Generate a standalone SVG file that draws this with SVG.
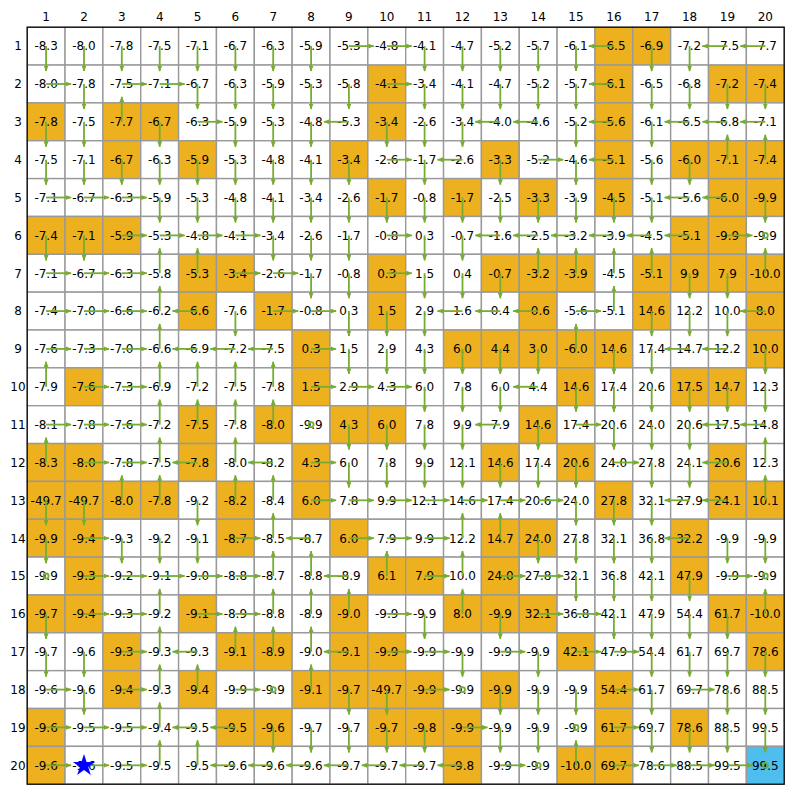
<svg xmlns="http://www.w3.org/2000/svg" xmlns:xlink="http://www.w3.org/1999/xlink" width="800" height="800" viewBox="0 0 800 800">
<style>
.w{fill:#ffffff;stroke:#999999;stroke-width:1.4}
.o{fill:#EDB120;stroke:#999999;stroke-width:1.4}
.b{fill:#4DBEEE;stroke:#999999;stroke-width:1.4}
text{font-family:"DejaVu Sans","Liberation Sans",sans-serif;font-size:12px;text-anchor:middle;fill:#000}
.lab text{font-size:12px}
#connectors{fill:none;stroke:#77AC30;stroke-width:1.8}
#connectors path{marker-end:url(#ah)}
</style>
<defs>
<marker id="ah" viewBox="0 0 6 5" refX="5.5" refY="2.5" markerWidth="6" markerHeight="5" markerUnits="userSpaceOnUse" orient="auto"><path d="M0 0L6 2.5L0 5z" fill="#77AC30" stroke="none"/></marker>
<rect id="W" class="w" width="37.85" height="37.85"/>
<rect id="O" class="o" width="37.85" height="37.85"/>
<rect id="B" class="b" width="37.85" height="37.85"/>
</defs>
<rect width="800" height="800" fill="#ffffff"/>
<g id="cells">
<g id="n1-1" transform="translate(27.2 27.2)"><use href="#W"/><text x="18.9" y="23.3">-8.3</text></g>
<g id="n1-2" transform="translate(65.05 27.2)"><use href="#W"/><text x="18.9" y="23.3">-8.0</text></g>
<g id="n1-3" transform="translate(102.9 27.2)"><use href="#W"/><text x="18.9" y="23.3">-7.8</text></g>
<g id="n1-4" transform="translate(140.75 27.2)"><use href="#W"/><text x="18.9" y="23.3">-7.5</text></g>
<g id="n1-5" transform="translate(178.6 27.2)"><use href="#W"/><text x="18.9" y="23.3">-7.1</text></g>
<g id="n1-6" transform="translate(216.45 27.2)"><use href="#W"/><text x="18.9" y="23.3">-6.7</text></g>
<g id="n1-7" transform="translate(254.3 27.2)"><use href="#W"/><text x="18.9" y="23.3">-6.3</text></g>
<g id="n1-8" transform="translate(292.15 27.2)"><use href="#W"/><text x="18.9" y="23.3">-5.9</text></g>
<g id="n1-9" transform="translate(330 27.2)"><use href="#W"/><text x="18.9" y="23.3">-5.3</text></g>
<g id="n1-10" transform="translate(367.85 27.2)"><use href="#W"/><text x="18.9" y="23.3">-4.8</text></g>
<g id="n1-11" transform="translate(405.7 27.2)"><use href="#W"/><text x="18.9" y="23.3">-4.1</text></g>
<g id="n1-12" transform="translate(443.55 27.2)"><use href="#W"/><text x="18.9" y="23.3">-4.7</text></g>
<g id="n1-13" transform="translate(481.4 27.2)"><use href="#W"/><text x="18.9" y="23.3">-5.2</text></g>
<g id="n1-14" transform="translate(519.25 27.2)"><use href="#W"/><text x="18.9" y="23.3">-5.7</text></g>
<g id="n1-15" transform="translate(557.1 27.2)"><use href="#W"/><text x="18.9" y="23.3">-6.1</text></g>
<g id="n1-16" transform="translate(594.95 27.2)"><use href="#O"/><text x="18.9" y="23.3">-6.5</text></g>
<g id="n1-17" transform="translate(632.8 27.2)"><use href="#O"/><text x="18.9" y="23.3">-6.9</text></g>
<g id="n1-18" transform="translate(670.65 27.2)"><use href="#W"/><text x="18.9" y="23.3">-7.2</text></g>
<g id="n1-19" transform="translate(708.5 27.2)"><use href="#W"/><text x="18.9" y="23.3">-7.5</text></g>
<g id="n1-20" transform="translate(746.35 27.2)"><use href="#W"/><text x="18.9" y="23.3">-7.7</text></g>

<g id="n2-1" transform="translate(27.2 65.05)"><use href="#W"/><text x="18.9" y="23.3">-8.0</text></g>
<g id="n2-2" transform="translate(65.05 65.05)"><use href="#W"/><text x="18.9" y="23.3">-7.8</text></g>
<g id="n2-3" transform="translate(102.9 65.05)"><use href="#W"/><text x="18.9" y="23.3">-7.5</text></g>
<g id="n2-4" transform="translate(140.75 65.05)"><use href="#W"/><text x="18.9" y="23.3">-7.1</text></g>
<g id="n2-5" transform="translate(178.6 65.05)"><use href="#W"/><text x="18.9" y="23.3">-6.7</text></g>
<g id="n2-6" transform="translate(216.45 65.05)"><use href="#W"/><text x="18.9" y="23.3">-6.3</text></g>
<g id="n2-7" transform="translate(254.3 65.05)"><use href="#W"/><text x="18.9" y="23.3">-5.9</text></g>
<g id="n2-8" transform="translate(292.15 65.05)"><use href="#W"/><text x="18.9" y="23.3">-5.3</text></g>
<g id="n2-9" transform="translate(330 65.05)"><use href="#W"/><text x="18.9" y="23.3">-5.8</text></g>
<g id="n2-10" transform="translate(367.85 65.05)"><use href="#O"/><text x="18.9" y="23.3">-4.1</text></g>
<g id="n2-11" transform="translate(405.7 65.05)"><use href="#W"/><text x="18.9" y="23.3">-3.4</text></g>
<g id="n2-12" transform="translate(443.55 65.05)"><use href="#W"/><text x="18.9" y="23.3">-4.1</text></g>
<g id="n2-13" transform="translate(481.4 65.05)"><use href="#W"/><text x="18.9" y="23.3">-4.7</text></g>
<g id="n2-14" transform="translate(519.25 65.05)"><use href="#W"/><text x="18.9" y="23.3">-5.2</text></g>
<g id="n2-15" transform="translate(557.1 65.05)"><use href="#W"/><text x="18.9" y="23.3">-5.7</text></g>
<g id="n2-16" transform="translate(594.95 65.05)"><use href="#O"/><text x="18.9" y="23.3">-6.1</text></g>
<g id="n2-17" transform="translate(632.8 65.05)"><use href="#W"/><text x="18.9" y="23.3">-6.5</text></g>
<g id="n2-18" transform="translate(670.65 65.05)"><use href="#W"/><text x="18.9" y="23.3">-6.8</text></g>
<g id="n2-19" transform="translate(708.5 65.05)"><use href="#O"/><text x="18.9" y="23.3">-7.2</text></g>
<g id="n2-20" transform="translate(746.35 65.05)"><use href="#O"/><text x="18.9" y="23.3">-7.4</text></g>

<g id="n3-1" transform="translate(27.2 102.9)"><use href="#O"/><text x="18.9" y="23.3">-7.8</text></g>
<g id="n3-2" transform="translate(65.05 102.9)"><use href="#W"/><text x="18.9" y="23.3">-7.5</text></g>
<g id="n3-3" transform="translate(102.9 102.9)"><use href="#O"/><text x="18.9" y="23.3">-7.7</text></g>
<g id="n3-4" transform="translate(140.75 102.9)"><use href="#O"/><text x="18.9" y="23.3">-6.7</text></g>
<g id="n3-5" transform="translate(178.6 102.9)"><use href="#W"/><text x="18.9" y="23.3">-6.3</text></g>
<g id="n3-6" transform="translate(216.45 102.9)"><use href="#W"/><text x="18.9" y="23.3">-5.9</text></g>
<g id="n3-7" transform="translate(254.3 102.9)"><use href="#W"/><text x="18.9" y="23.3">-5.3</text></g>
<g id="n3-8" transform="translate(292.15 102.9)"><use href="#W"/><text x="18.9" y="23.3">-4.8</text></g>
<g id="n3-9" transform="translate(330 102.9)"><use href="#W"/><text x="18.9" y="23.3">-5.3</text></g>
<g id="n3-10" transform="translate(367.85 102.9)"><use href="#O"/><text x="18.9" y="23.3">-3.4</text></g>
<g id="n3-11" transform="translate(405.7 102.9)"><use href="#W"/><text x="18.9" y="23.3">-2.6</text></g>
<g id="n3-12" transform="translate(443.55 102.9)"><use href="#W"/><text x="18.9" y="23.3">-3.4</text></g>
<g id="n3-13" transform="translate(481.4 102.9)"><use href="#W"/><text x="18.9" y="23.3">-4.0</text></g>
<g id="n3-14" transform="translate(519.25 102.9)"><use href="#W"/><text x="18.9" y="23.3">-4.6</text></g>
<g id="n3-15" transform="translate(557.1 102.9)"><use href="#W"/><text x="18.9" y="23.3">-5.2</text></g>
<g id="n3-16" transform="translate(594.95 102.9)"><use href="#O"/><text x="18.9" y="23.3">-5.6</text></g>
<g id="n3-17" transform="translate(632.8 102.9)"><use href="#W"/><text x="18.9" y="23.3">-6.1</text></g>
<g id="n3-18" transform="translate(670.65 102.9)"><use href="#W"/><text x="18.9" y="23.3">-6.5</text></g>
<g id="n3-19" transform="translate(708.5 102.9)"><use href="#W"/><text x="18.9" y="23.3">-6.8</text></g>
<g id="n3-20" transform="translate(746.35 102.9)"><use href="#W"/><text x="18.9" y="23.3">-7.1</text></g>

<g id="n4-1" transform="translate(27.2 140.75)"><use href="#W"/><text x="18.9" y="23.3">-7.5</text></g>
<g id="n4-2" transform="translate(65.05 140.75)"><use href="#W"/><text x="18.9" y="23.3">-7.1</text></g>
<g id="n4-3" transform="translate(102.9 140.75)"><use href="#O"/><text x="18.9" y="23.3">-6.7</text></g>
<g id="n4-4" transform="translate(140.75 140.75)"><use href="#W"/><text x="18.9" y="23.3">-6.3</text></g>
<g id="n4-5" transform="translate(178.6 140.75)"><use href="#O"/><text x="18.9" y="23.3">-5.9</text></g>
<g id="n4-6" transform="translate(216.45 140.75)"><use href="#W"/><text x="18.9" y="23.3">-5.3</text></g>
<g id="n4-7" transform="translate(254.3 140.75)"><use href="#W"/><text x="18.9" y="23.3">-4.8</text></g>
<g id="n4-8" transform="translate(292.15 140.75)"><use href="#W"/><text x="18.9" y="23.3">-4.1</text></g>
<g id="n4-9" transform="translate(330 140.75)"><use href="#O"/><text x="18.9" y="23.3">-3.4</text></g>
<g id="n4-10" transform="translate(367.85 140.75)"><use href="#W"/><text x="18.9" y="23.3">-2.6</text></g>
<g id="n4-11" transform="translate(405.7 140.75)"><use href="#W"/><text x="18.9" y="23.3">-1.7</text></g>
<g id="n4-12" transform="translate(443.55 140.75)"><use href="#W"/><text x="18.9" y="23.3">-2.6</text></g>
<g id="n4-13" transform="translate(481.4 140.75)"><use href="#O"/><text x="18.9" y="23.3">-3.3</text></g>
<g id="n4-14" transform="translate(519.25 140.75)"><use href="#W"/><text x="18.9" y="23.3">-5.2</text></g>
<g id="n4-15" transform="translate(557.1 140.75)"><use href="#W"/><text x="18.9" y="23.3">-4.6</text></g>
<g id="n4-16" transform="translate(594.95 140.75)"><use href="#O"/><text x="18.9" y="23.3">-5.1</text></g>
<g id="n4-17" transform="translate(632.8 140.75)"><use href="#W"/><text x="18.9" y="23.3">-5.6</text></g>
<g id="n4-18" transform="translate(670.65 140.75)"><use href="#O"/><text x="18.9" y="23.3">-6.0</text></g>
<g id="n4-19" transform="translate(708.5 140.75)"><use href="#O"/><text x="18.9" y="23.3">-7.1</text></g>
<g id="n4-20" transform="translate(746.35 140.75)"><use href="#O"/><text x="18.9" y="23.3">-7.4</text></g>

<g id="n5-1" transform="translate(27.2 178.6)"><use href="#W"/><text x="18.9" y="23.3">-7.1</text></g>
<g id="n5-2" transform="translate(65.05 178.6)"><use href="#W"/><text x="18.9" y="23.3">-6.7</text></g>
<g id="n5-3" transform="translate(102.9 178.6)"><use href="#W"/><text x="18.9" y="23.3">-6.3</text></g>
<g id="n5-4" transform="translate(140.75 178.6)"><use href="#W"/><text x="18.9" y="23.3">-5.9</text></g>
<g id="n5-5" transform="translate(178.6 178.6)"><use href="#W"/><text x="18.9" y="23.3">-5.3</text></g>
<g id="n5-6" transform="translate(216.45 178.6)"><use href="#W"/><text x="18.9" y="23.3">-4.8</text></g>
<g id="n5-7" transform="translate(254.3 178.6)"><use href="#W"/><text x="18.9" y="23.3">-4.1</text></g>
<g id="n5-8" transform="translate(292.15 178.6)"><use href="#W"/><text x="18.9" y="23.3">-3.4</text></g>
<g id="n5-9" transform="translate(330 178.6)"><use href="#W"/><text x="18.9" y="23.3">-2.6</text></g>
<g id="n5-10" transform="translate(367.85 178.6)"><use href="#O"/><text x="18.9" y="23.3">-1.7</text></g>
<g id="n5-11" transform="translate(405.7 178.6)"><use href="#W"/><text x="18.9" y="23.3">-0.8</text></g>
<g id="n5-12" transform="translate(443.55 178.6)"><use href="#O"/><text x="18.9" y="23.3">-1.7</text></g>
<g id="n5-13" transform="translate(481.4 178.6)"><use href="#W"/><text x="18.9" y="23.3">-2.5</text></g>
<g id="n5-14" transform="translate(519.25 178.6)"><use href="#O"/><text x="18.9" y="23.3">-3.3</text></g>
<g id="n5-15" transform="translate(557.1 178.6)"><use href="#W"/><text x="18.9" y="23.3">-3.9</text></g>
<g id="n5-16" transform="translate(594.95 178.6)"><use href="#O"/><text x="18.9" y="23.3">-4.5</text></g>
<g id="n5-17" transform="translate(632.8 178.6)"><use href="#W"/><text x="18.9" y="23.3">-5.1</text></g>
<g id="n5-18" transform="translate(670.65 178.6)"><use href="#W"/><text x="18.9" y="23.3">-5.6</text></g>
<g id="n5-19" transform="translate(708.5 178.6)"><use href="#O"/><text x="18.9" y="23.3">-6.0</text></g>
<g id="n5-20" transform="translate(746.35 178.6)"><use href="#O"/><text x="18.9" y="23.3">-9.9</text></g>

<g id="n6-1" transform="translate(27.2 216.45)"><use href="#O"/><text x="18.9" y="23.3">-7.4</text></g>
<g id="n6-2" transform="translate(65.05 216.45)"><use href="#O"/><text x="18.9" y="23.3">-7.1</text></g>
<g id="n6-3" transform="translate(102.9 216.45)"><use href="#O"/><text x="18.9" y="23.3">-5.9</text></g>
<g id="n6-4" transform="translate(140.75 216.45)"><use href="#W"/><text x="18.9" y="23.3">-5.3</text></g>
<g id="n6-5" transform="translate(178.6 216.45)"><use href="#W"/><text x="18.9" y="23.3">-4.8</text></g>
<g id="n6-6" transform="translate(216.45 216.45)"><use href="#W"/><text x="18.9" y="23.3">-4.1</text></g>
<g id="n6-7" transform="translate(254.3 216.45)"><use href="#W"/><text x="18.9" y="23.3">-3.4</text></g>
<g id="n6-8" transform="translate(292.15 216.45)"><use href="#W"/><text x="18.9" y="23.3">-2.6</text></g>
<g id="n6-9" transform="translate(330 216.45)"><use href="#W"/><text x="18.9" y="23.3">-1.7</text></g>
<g id="n6-10" transform="translate(367.85 216.45)"><use href="#W"/><text x="18.9" y="23.3">-0.8</text></g>
<g id="n6-11" transform="translate(405.7 216.45)"><use href="#W"/><text x="18.9" y="23.3">0.3</text></g>
<g id="n6-12" transform="translate(443.55 216.45)"><use href="#W"/><text x="18.9" y="23.3">-0.7</text></g>
<g id="n6-13" transform="translate(481.4 216.45)"><use href="#W"/><text x="18.9" y="23.3">-1.6</text></g>
<g id="n6-14" transform="translate(519.25 216.45)"><use href="#W"/><text x="18.9" y="23.3">-2.5</text></g>
<g id="n6-15" transform="translate(557.1 216.45)"><use href="#W"/><text x="18.9" y="23.3">-3.2</text></g>
<g id="n6-16" transform="translate(594.95 216.45)"><use href="#W"/><text x="18.9" y="23.3">-3.9</text></g>
<g id="n6-17" transform="translate(632.8 216.45)"><use href="#W"/><text x="18.9" y="23.3">-4.5</text></g>
<g id="n6-18" transform="translate(670.65 216.45)"><use href="#O"/><text x="18.9" y="23.3">-5.1</text></g>
<g id="n6-19" transform="translate(708.5 216.45)"><use href="#O"/><text x="18.9" y="23.3">-9.9</text></g>
<g id="n6-20" transform="translate(746.35 216.45)"><use href="#W"/><text x="18.9" y="23.3">-9.9</text></g>

<g id="n7-1" transform="translate(27.2 254.3)"><use href="#W"/><text x="18.9" y="23.3">-7.1</text></g>
<g id="n7-2" transform="translate(65.05 254.3)"><use href="#W"/><text x="18.9" y="23.3">-6.7</text></g>
<g id="n7-3" transform="translate(102.9 254.3)"><use href="#W"/><text x="18.9" y="23.3">-6.3</text></g>
<g id="n7-4" transform="translate(140.75 254.3)"><use href="#W"/><text x="18.9" y="23.3">-5.8</text></g>
<g id="n7-5" transform="translate(178.6 254.3)"><use href="#O"/><text x="18.9" y="23.3">-5.3</text></g>
<g id="n7-6" transform="translate(216.45 254.3)"><use href="#O"/><text x="18.9" y="23.3">-3.4</text></g>
<g id="n7-7" transform="translate(254.3 254.3)"><use href="#W"/><text x="18.9" y="23.3">-2.6</text></g>
<g id="n7-8" transform="translate(292.15 254.3)"><use href="#W"/><text x="18.9" y="23.3">-1.7</text></g>
<g id="n7-9" transform="translate(330 254.3)"><use href="#W"/><text x="18.9" y="23.3">-0.8</text></g>
<g id="n7-10" transform="translate(367.85 254.3)"><use href="#O"/><text x="18.9" y="23.3">0.3</text></g>
<g id="n7-11" transform="translate(405.7 254.3)"><use href="#W"/><text x="18.9" y="23.3">1.5</text></g>
<g id="n7-12" transform="translate(443.55 254.3)"><use href="#W"/><text x="18.9" y="23.3">0.4</text></g>
<g id="n7-13" transform="translate(481.4 254.3)"><use href="#O"/><text x="18.9" y="23.3">-0.7</text></g>
<g id="n7-14" transform="translate(519.25 254.3)"><use href="#O"/><text x="18.9" y="23.3">-3.2</text></g>
<g id="n7-15" transform="translate(557.1 254.3)"><use href="#O"/><text x="18.9" y="23.3">-3.9</text></g>
<g id="n7-16" transform="translate(594.95 254.3)"><use href="#W"/><text x="18.9" y="23.3">-4.5</text></g>
<g id="n7-17" transform="translate(632.8 254.3)"><use href="#O"/><text x="18.9" y="23.3">-5.1</text></g>
<g id="n7-18" transform="translate(670.65 254.3)"><use href="#O"/><text x="18.9" y="23.3">9.9</text></g>
<g id="n7-19" transform="translate(708.5 254.3)"><use href="#O"/><text x="18.9" y="23.3">7.9</text></g>
<g id="n7-20" transform="translate(746.35 254.3)"><use href="#O"/><text x="18.9" y="23.3">-10.0</text></g>

<g id="n8-1" transform="translate(27.2 292.15)"><use href="#W"/><text x="18.9" y="23.3">-7.4</text></g>
<g id="n8-2" transform="translate(65.05 292.15)"><use href="#W"/><text x="18.9" y="23.3">-7.0</text></g>
<g id="n8-3" transform="translate(102.9 292.15)"><use href="#W"/><text x="18.9" y="23.3">-6.6</text></g>
<g id="n8-4" transform="translate(140.75 292.15)"><use href="#W"/><text x="18.9" y="23.3">-6.2</text></g>
<g id="n8-5" transform="translate(178.6 292.15)"><use href="#O"/><text x="18.9" y="23.3">-6.6</text></g>
<g id="n8-6" transform="translate(216.45 292.15)"><use href="#W"/><text x="18.9" y="23.3">-7.6</text></g>
<g id="n8-7" transform="translate(254.3 292.15)"><use href="#O"/><text x="18.9" y="23.3">-1.7</text></g>
<g id="n8-8" transform="translate(292.15 292.15)"><use href="#W"/><text x="18.9" y="23.3">-0.8</text></g>
<g id="n8-9" transform="translate(330 292.15)"><use href="#W"/><text x="18.9" y="23.3">0.3</text></g>
<g id="n8-10" transform="translate(367.85 292.15)"><use href="#O"/><text x="18.9" y="23.3">1.5</text></g>
<g id="n8-11" transform="translate(405.7 292.15)"><use href="#W"/><text x="18.9" y="23.3">2.9</text></g>
<g id="n8-12" transform="translate(443.55 292.15)"><use href="#W"/><text x="18.9" y="23.3">1.6</text></g>
<g id="n8-13" transform="translate(481.4 292.15)"><use href="#W"/><text x="18.9" y="23.3">0.4</text></g>
<g id="n8-14" transform="translate(519.25 292.15)"><use href="#O"/><text x="18.9" y="23.3">-0.6</text></g>
<g id="n8-15" transform="translate(557.1 292.15)"><use href="#W"/><text x="18.9" y="23.3">-5.6</text></g>
<g id="n8-16" transform="translate(594.95 292.15)"><use href="#W"/><text x="18.9" y="23.3">-5.1</text></g>
<g id="n8-17" transform="translate(632.8 292.15)"><use href="#O"/><text x="18.9" y="23.3">14.6</text></g>
<g id="n8-18" transform="translate(670.65 292.15)"><use href="#W"/><text x="18.9" y="23.3">12.2</text></g>
<g id="n8-19" transform="translate(708.5 292.15)"><use href="#W"/><text x="18.9" y="23.3">10.0</text></g>
<g id="n8-20" transform="translate(746.35 292.15)"><use href="#O"/><text x="18.9" y="23.3">8.0</text></g>

<g id="n9-1" transform="translate(27.2 330)"><use href="#W"/><text x="18.9" y="23.3">-7.6</text></g>
<g id="n9-2" transform="translate(65.05 330)"><use href="#W"/><text x="18.9" y="23.3">-7.3</text></g>
<g id="n9-3" transform="translate(102.9 330)"><use href="#W"/><text x="18.9" y="23.3">-7.0</text></g>
<g id="n9-4" transform="translate(140.75 330)"><use href="#W"/><text x="18.9" y="23.3">-6.6</text></g>
<g id="n9-5" transform="translate(178.6 330)"><use href="#W"/><text x="18.9" y="23.3">-6.9</text></g>
<g id="n9-6" transform="translate(216.45 330)"><use href="#W"/><text x="18.9" y="23.3">-7.2</text></g>
<g id="n9-7" transform="translate(254.3 330)"><use href="#W"/><text x="18.9" y="23.3">-7.5</text></g>
<g id="n9-8" transform="translate(292.15 330)"><use href="#O"/><text x="18.9" y="23.3">0.3</text></g>
<g id="n9-9" transform="translate(330 330)"><use href="#W"/><text x="18.9" y="23.3">1.5</text></g>
<g id="n9-10" transform="translate(367.85 330)"><use href="#W"/><text x="18.9" y="23.3">2.9</text></g>
<g id="n9-11" transform="translate(405.7 330)"><use href="#W"/><text x="18.9" y="23.3">4.3</text></g>
<g id="n9-12" transform="translate(443.55 330)"><use href="#O"/><text x="18.9" y="23.3">6.0</text></g>
<g id="n9-13" transform="translate(481.4 330)"><use href="#O"/><text x="18.9" y="23.3">4.4</text></g>
<g id="n9-14" transform="translate(519.25 330)"><use href="#O"/><text x="18.9" y="23.3">3.0</text></g>
<g id="n9-15" transform="translate(557.1 330)"><use href="#O"/><text x="18.9" y="23.3">-6.0</text></g>
<g id="n9-16" transform="translate(594.95 330)"><use href="#O"/><text x="18.9" y="23.3">14.6</text></g>
<g id="n9-17" transform="translate(632.8 330)"><use href="#W"/><text x="18.9" y="23.3">17.4</text></g>
<g id="n9-18" transform="translate(670.65 330)"><use href="#W"/><text x="18.9" y="23.3">14.7</text></g>
<g id="n9-19" transform="translate(708.5 330)"><use href="#W"/><text x="18.9" y="23.3">12.2</text></g>
<g id="n9-20" transform="translate(746.35 330)"><use href="#O"/><text x="18.9" y="23.3">10.0</text></g>

<g id="n10-1" transform="translate(27.2 367.85)"><use href="#W"/><text x="18.9" y="23.3">-7.9</text></g>
<g id="n10-2" transform="translate(65.05 367.85)"><use href="#O"/><text x="18.9" y="23.3">-7.6</text></g>
<g id="n10-3" transform="translate(102.9 367.85)"><use href="#W"/><text x="18.9" y="23.3">-7.3</text></g>
<g id="n10-4" transform="translate(140.75 367.85)"><use href="#W"/><text x="18.9" y="23.3">-6.9</text></g>
<g id="n10-5" transform="translate(178.6 367.85)"><use href="#W"/><text x="18.9" y="23.3">-7.2</text></g>
<g id="n10-6" transform="translate(216.45 367.85)"><use href="#W"/><text x="18.9" y="23.3">-7.5</text></g>
<g id="n10-7" transform="translate(254.3 367.85)"><use href="#W"/><text x="18.9" y="23.3">-7.8</text></g>
<g id="n10-8" transform="translate(292.15 367.85)"><use href="#O"/><text x="18.9" y="23.3">1.5</text></g>
<g id="n10-9" transform="translate(330 367.85)"><use href="#W"/><text x="18.9" y="23.3">2.9</text></g>
<g id="n10-10" transform="translate(367.85 367.85)"><use href="#W"/><text x="18.9" y="23.3">4.3</text></g>
<g id="n10-11" transform="translate(405.7 367.85)"><use href="#W"/><text x="18.9" y="23.3">6.0</text></g>
<g id="n10-12" transform="translate(443.55 367.85)"><use href="#W"/><text x="18.9" y="23.3">7.8</text></g>
<g id="n10-13" transform="translate(481.4 367.85)"><use href="#W"/><text x="18.9" y="23.3">6.0</text></g>
<g id="n10-14" transform="translate(519.25 367.85)"><use href="#W"/><text x="18.9" y="23.3">4.4</text></g>
<g id="n10-15" transform="translate(557.1 367.85)"><use href="#O"/><text x="18.9" y="23.3">14.6</text></g>
<g id="n10-16" transform="translate(594.95 367.85)"><use href="#W"/><text x="18.9" y="23.3">17.4</text></g>
<g id="n10-17" transform="translate(632.8 367.85)"><use href="#W"/><text x="18.9" y="23.3">20.6</text></g>
<g id="n10-18" transform="translate(670.65 367.85)"><use href="#O"/><text x="18.9" y="23.3">17.5</text></g>
<g id="n10-19" transform="translate(708.5 367.85)"><use href="#O"/><text x="18.9" y="23.3">14.7</text></g>
<g id="n10-20" transform="translate(746.35 367.85)"><use href="#W"/><text x="18.9" y="23.3">12.3</text></g>

<g id="n11-1" transform="translate(27.2 405.7)"><use href="#W"/><text x="18.9" y="23.3">-8.1</text></g>
<g id="n11-2" transform="translate(65.05 405.7)"><use href="#W"/><text x="18.9" y="23.3">-7.8</text></g>
<g id="n11-3" transform="translate(102.9 405.7)"><use href="#W"/><text x="18.9" y="23.3">-7.6</text></g>
<g id="n11-4" transform="translate(140.75 405.7)"><use href="#W"/><text x="18.9" y="23.3">-7.2</text></g>
<g id="n11-5" transform="translate(178.6 405.7)"><use href="#O"/><text x="18.9" y="23.3">-7.5</text></g>
<g id="n11-6" transform="translate(216.45 405.7)"><use href="#W"/><text x="18.9" y="23.3">-7.8</text></g>
<g id="n11-7" transform="translate(254.3 405.7)"><use href="#O"/><text x="18.9" y="23.3">-8.0</text></g>
<g id="n11-8" transform="translate(292.15 405.7)"><use href="#W"/><text x="18.9" y="23.3">-9.9</text></g>
<g id="n11-9" transform="translate(330 405.7)"><use href="#O"/><text x="18.9" y="23.3">4.3</text></g>
<g id="n11-10" transform="translate(367.85 405.7)"><use href="#O"/><text x="18.9" y="23.3">6.0</text></g>
<g id="n11-11" transform="translate(405.7 405.7)"><use href="#W"/><text x="18.9" y="23.3">7.8</text></g>
<g id="n11-12" transform="translate(443.55 405.7)"><use href="#W"/><text x="18.9" y="23.3">9.9</text></g>
<g id="n11-13" transform="translate(481.4 405.7)"><use href="#W"/><text x="18.9" y="23.3">7.9</text></g>
<g id="n11-14" transform="translate(519.25 405.7)"><use href="#O"/><text x="18.9" y="23.3">14.6</text></g>
<g id="n11-15" transform="translate(557.1 405.7)"><use href="#W"/><text x="18.9" y="23.3">17.4</text></g>
<g id="n11-16" transform="translate(594.95 405.7)"><use href="#W"/><text x="18.9" y="23.3">20.6</text></g>
<g id="n11-17" transform="translate(632.8 405.7)"><use href="#W"/><text x="18.9" y="23.3">24.0</text></g>
<g id="n11-18" transform="translate(670.65 405.7)"><use href="#W"/><text x="18.9" y="23.3">20.6</text></g>
<g id="n11-19" transform="translate(708.5 405.7)"><use href="#W"/><text x="18.9" y="23.3">17.5</text></g>
<g id="n11-20" transform="translate(746.35 405.7)"><use href="#W"/><text x="18.9" y="23.3">14.8</text></g>

<g id="n12-1" transform="translate(27.2 443.55)"><use href="#O"/><text x="18.9" y="23.3">-8.3</text></g>
<g id="n12-2" transform="translate(65.05 443.55)"><use href="#O"/><text x="18.9" y="23.3">-8.0</text></g>
<g id="n12-3" transform="translate(102.9 443.55)"><use href="#W"/><text x="18.9" y="23.3">-7.8</text></g>
<g id="n12-4" transform="translate(140.75 443.55)"><use href="#W"/><text x="18.9" y="23.3">-7.5</text></g>
<g id="n12-5" transform="translate(178.6 443.55)"><use href="#O"/><text x="18.9" y="23.3">-7.8</text></g>
<g id="n12-6" transform="translate(216.45 443.55)"><use href="#W"/><text x="18.9" y="23.3">-8.0</text></g>
<g id="n12-7" transform="translate(254.3 443.55)"><use href="#W"/><text x="18.9" y="23.3">-8.2</text></g>
<g id="n12-8" transform="translate(292.15 443.55)"><use href="#O"/><text x="18.9" y="23.3">4.3</text></g>
<g id="n12-9" transform="translate(330 443.55)"><use href="#W"/><text x="18.9" y="23.3">6.0</text></g>
<g id="n12-10" transform="translate(367.85 443.55)"><use href="#W"/><text x="18.9" y="23.3">7.8</text></g>
<g id="n12-11" transform="translate(405.7 443.55)"><use href="#W"/><text x="18.9" y="23.3">9.9</text></g>
<g id="n12-12" transform="translate(443.55 443.55)"><use href="#W"/><text x="18.9" y="23.3">12.1</text></g>
<g id="n12-13" transform="translate(481.4 443.55)"><use href="#O"/><text x="18.9" y="23.3">14.6</text></g>
<g id="n12-14" transform="translate(519.25 443.55)"><use href="#W"/><text x="18.9" y="23.3">17.4</text></g>
<g id="n12-15" transform="translate(557.1 443.55)"><use href="#O"/><text x="18.9" y="23.3">20.6</text></g>
<g id="n12-16" transform="translate(594.95 443.55)"><use href="#W"/><text x="18.9" y="23.3">24.0</text></g>
<g id="n12-17" transform="translate(632.8 443.55)"><use href="#W"/><text x="18.9" y="23.3">27.8</text></g>
<g id="n12-18" transform="translate(670.65 443.55)"><use href="#W"/><text x="18.9" y="23.3">24.1</text></g>
<g id="n12-19" transform="translate(708.5 443.55)"><use href="#O"/><text x="18.9" y="23.3">20.6</text></g>
<g id="n12-20" transform="translate(746.35 443.55)"><use href="#W"/><text x="18.9" y="23.3">12.3</text></g>

<g id="n13-1" transform="translate(27.2 481.4)"><use href="#O"/><text x="18.9" y="23.3">-49.7</text></g>
<g id="n13-2" transform="translate(65.05 481.4)"><use href="#O"/><text x="18.9" y="23.3">-49.7</text></g>
<g id="n13-3" transform="translate(102.9 481.4)"><use href="#O"/><text x="18.9" y="23.3">-8.0</text></g>
<g id="n13-4" transform="translate(140.75 481.4)"><use href="#O"/><text x="18.9" y="23.3">-7.8</text></g>
<g id="n13-5" transform="translate(178.6 481.4)"><use href="#W"/><text x="18.9" y="23.3">-9.2</text></g>
<g id="n13-6" transform="translate(216.45 481.4)"><use href="#O"/><text x="18.9" y="23.3">-8.2</text></g>
<g id="n13-7" transform="translate(254.3 481.4)"><use href="#W"/><text x="18.9" y="23.3">-8.4</text></g>
<g id="n13-8" transform="translate(292.15 481.4)"><use href="#O"/><text x="18.9" y="23.3">6.0</text></g>
<g id="n13-9" transform="translate(330 481.4)"><use href="#W"/><text x="18.9" y="23.3">7.8</text></g>
<g id="n13-10" transform="translate(367.85 481.4)"><use href="#W"/><text x="18.9" y="23.3">9.9</text></g>
<g id="n13-11" transform="translate(405.7 481.4)"><use href="#W"/><text x="18.9" y="23.3">12.1</text></g>
<g id="n13-12" transform="translate(443.55 481.4)"><use href="#W"/><text x="18.9" y="23.3">14.6</text></g>
<g id="n13-13" transform="translate(481.4 481.4)"><use href="#W"/><text x="18.9" y="23.3">17.4</text></g>
<g id="n13-14" transform="translate(519.25 481.4)"><use href="#W"/><text x="18.9" y="23.3">20.6</text></g>
<g id="n13-15" transform="translate(557.1 481.4)"><use href="#W"/><text x="18.9" y="23.3">24.0</text></g>
<g id="n13-16" transform="translate(594.95 481.4)"><use href="#O"/><text x="18.9" y="23.3">27.8</text></g>
<g id="n13-17" transform="translate(632.8 481.4)"><use href="#W"/><text x="18.9" y="23.3">32.1</text></g>
<g id="n13-18" transform="translate(670.65 481.4)"><use href="#W"/><text x="18.9" y="23.3">27.9</text></g>
<g id="n13-19" transform="translate(708.5 481.4)"><use href="#O"/><text x="18.9" y="23.3">24.1</text></g>
<g id="n13-20" transform="translate(746.35 481.4)"><use href="#O"/><text x="18.9" y="23.3">10.1</text></g>

<g id="n14-1" transform="translate(27.2 519.25)"><use href="#O"/><text x="18.9" y="23.3">-9.9</text></g>
<g id="n14-2" transform="translate(65.05 519.25)"><use href="#O"/><text x="18.9" y="23.3">-9.4</text></g>
<g id="n14-3" transform="translate(102.9 519.25)"><use href="#W"/><text x="18.9" y="23.3">-9.3</text></g>
<g id="n14-4" transform="translate(140.75 519.25)"><use href="#W"/><text x="18.9" y="23.3">-9.2</text></g>
<g id="n14-5" transform="translate(178.6 519.25)"><use href="#W"/><text x="18.9" y="23.3">-9.1</text></g>
<g id="n14-6" transform="translate(216.45 519.25)"><use href="#O"/><text x="18.9" y="23.3">-8.7</text></g>
<g id="n14-7" transform="translate(254.3 519.25)"><use href="#W"/><text x="18.9" y="23.3">-8.5</text></g>
<g id="n14-8" transform="translate(292.15 519.25)"><use href="#W"/><text x="18.9" y="23.3">-8.7</text></g>
<g id="n14-9" transform="translate(330 519.25)"><use href="#O"/><text x="18.9" y="23.3">6.0</text></g>
<g id="n14-10" transform="translate(367.85 519.25)"><use href="#W"/><text x="18.9" y="23.3">7.9</text></g>
<g id="n14-11" transform="translate(405.7 519.25)"><use href="#W"/><text x="18.9" y="23.3">9.9</text></g>
<g id="n14-12" transform="translate(443.55 519.25)"><use href="#W"/><text x="18.9" y="23.3">12.2</text></g>
<g id="n14-13" transform="translate(481.4 519.25)"><use href="#O"/><text x="18.9" y="23.3">14.7</text></g>
<g id="n14-14" transform="translate(519.25 519.25)"><use href="#O"/><text x="18.9" y="23.3">24.0</text></g>
<g id="n14-15" transform="translate(557.1 519.25)"><use href="#W"/><text x="18.9" y="23.3">27.8</text></g>
<g id="n14-16" transform="translate(594.95 519.25)"><use href="#W"/><text x="18.9" y="23.3">32.1</text></g>
<g id="n14-17" transform="translate(632.8 519.25)"><use href="#W"/><text x="18.9" y="23.3">36.8</text></g>
<g id="n14-18" transform="translate(670.65 519.25)"><use href="#O"/><text x="18.9" y="23.3">32.2</text></g>
<g id="n14-19" transform="translate(708.5 519.25)"><use href="#W"/><text x="18.9" y="23.3">-9.9</text></g>
<g id="n14-20" transform="translate(746.35 519.25)"><use href="#W"/><text x="18.9" y="23.3">-9.9</text></g>

<g id="n15-1" transform="translate(27.2 557.1)"><use href="#W"/><text x="18.9" y="23.3">-9.9</text></g>
<g id="n15-2" transform="translate(65.05 557.1)"><use href="#O"/><text x="18.9" y="23.3">-9.3</text></g>
<g id="n15-3" transform="translate(102.9 557.1)"><use href="#W"/><text x="18.9" y="23.3">-9.2</text></g>
<g id="n15-4" transform="translate(140.75 557.1)"><use href="#W"/><text x="18.9" y="23.3">-9.1</text></g>
<g id="n15-5" transform="translate(178.6 557.1)"><use href="#W"/><text x="18.9" y="23.3">-9.0</text></g>
<g id="n15-6" transform="translate(216.45 557.1)"><use href="#W"/><text x="18.9" y="23.3">-8.8</text></g>
<g id="n15-7" transform="translate(254.3 557.1)"><use href="#W"/><text x="18.9" y="23.3">-8.7</text></g>
<g id="n15-8" transform="translate(292.15 557.1)"><use href="#W"/><text x="18.9" y="23.3">-8.8</text></g>
<g id="n15-9" transform="translate(330 557.1)"><use href="#W"/><text x="18.9" y="23.3">-8.9</text></g>
<g id="n15-10" transform="translate(367.85 557.1)"><use href="#O"/><text x="18.9" y="23.3">6.1</text></g>
<g id="n15-11" transform="translate(405.7 557.1)"><use href="#O"/><text x="18.9" y="23.3">7.9</text></g>
<g id="n15-12" transform="translate(443.55 557.1)"><use href="#W"/><text x="18.9" y="23.3">10.0</text></g>
<g id="n15-13" transform="translate(481.4 557.1)"><use href="#O"/><text x="18.9" y="23.3">24.0</text></g>
<g id="n15-14" transform="translate(519.25 557.1)"><use href="#W"/><text x="18.9" y="23.3">27.8</text></g>
<g id="n15-15" transform="translate(557.1 557.1)"><use href="#W"/><text x="18.9" y="23.3">32.1</text></g>
<g id="n15-16" transform="translate(594.95 557.1)"><use href="#W"/><text x="18.9" y="23.3">36.8</text></g>
<g id="n15-17" transform="translate(632.8 557.1)"><use href="#W"/><text x="18.9" y="23.3">42.1</text></g>
<g id="n15-18" transform="translate(670.65 557.1)"><use href="#O"/><text x="18.9" y="23.3">47.9</text></g>
<g id="n15-19" transform="translate(708.5 557.1)"><use href="#W"/><text x="18.9" y="23.3">-9.9</text></g>
<g id="n15-20" transform="translate(746.35 557.1)"><use href="#W"/><text x="18.9" y="23.3">-9.9</text></g>

<g id="n16-1" transform="translate(27.2 594.95)"><use href="#O"/><text x="18.9" y="23.3">-9.7</text></g>
<g id="n16-2" transform="translate(65.05 594.95)"><use href="#O"/><text x="18.9" y="23.3">-9.4</text></g>
<g id="n16-3" transform="translate(102.9 594.95)"><use href="#W"/><text x="18.9" y="23.3">-9.3</text></g>
<g id="n16-4" transform="translate(140.75 594.95)"><use href="#W"/><text x="18.9" y="23.3">-9.2</text></g>
<g id="n16-5" transform="translate(178.6 594.95)"><use href="#O"/><text x="18.9" y="23.3">-9.1</text></g>
<g id="n16-6" transform="translate(216.45 594.95)"><use href="#W"/><text x="18.9" y="23.3">-8.9</text></g>
<g id="n16-7" transform="translate(254.3 594.95)"><use href="#W"/><text x="18.9" y="23.3">-8.8</text></g>
<g id="n16-8" transform="translate(292.15 594.95)"><use href="#W"/><text x="18.9" y="23.3">-8.9</text></g>
<g id="n16-9" transform="translate(330 594.95)"><use href="#O"/><text x="18.9" y="23.3">-9.0</text></g>
<g id="n16-10" transform="translate(367.85 594.95)"><use href="#W"/><text x="18.9" y="23.3">-9.9</text></g>
<g id="n16-11" transform="translate(405.7 594.95)"><use href="#W"/><text x="18.9" y="23.3">-9.9</text></g>
<g id="n16-12" transform="translate(443.55 594.95)"><use href="#O"/><text x="18.9" y="23.3">8.0</text></g>
<g id="n16-13" transform="translate(481.4 594.95)"><use href="#O"/><text x="18.9" y="23.3">-9.9</text></g>
<g id="n16-14" transform="translate(519.25 594.95)"><use href="#O"/><text x="18.9" y="23.3">32.1</text></g>
<g id="n16-15" transform="translate(557.1 594.95)"><use href="#W"/><text x="18.9" y="23.3">36.8</text></g>
<g id="n16-16" transform="translate(594.95 594.95)"><use href="#W"/><text x="18.9" y="23.3">42.1</text></g>
<g id="n16-17" transform="translate(632.8 594.95)"><use href="#W"/><text x="18.9" y="23.3">47.9</text></g>
<g id="n16-18" transform="translate(670.65 594.95)"><use href="#W"/><text x="18.9" y="23.3">54.4</text></g>
<g id="n16-19" transform="translate(708.5 594.95)"><use href="#O"/><text x="18.9" y="23.3">61.7</text></g>
<g id="n16-20" transform="translate(746.35 594.95)"><use href="#O"/><text x="18.9" y="23.3">-10.0</text></g>

<g id="n17-1" transform="translate(27.2 632.8)"><use href="#W"/><text x="18.9" y="23.3">-9.7</text></g>
<g id="n17-2" transform="translate(65.05 632.8)"><use href="#W"/><text x="18.9" y="23.3">-9.6</text></g>
<g id="n17-3" transform="translate(102.9 632.8)"><use href="#O"/><text x="18.9" y="23.3">-9.3</text></g>
<g id="n17-4" transform="translate(140.75 632.8)"><use href="#W"/><text x="18.9" y="23.3">-9.3</text></g>
<g id="n17-5" transform="translate(178.6 632.8)"><use href="#W"/><text x="18.9" y="23.3">-9.3</text></g>
<g id="n17-6" transform="translate(216.45 632.8)"><use href="#O"/><text x="18.9" y="23.3">-9.1</text></g>
<g id="n17-7" transform="translate(254.3 632.8)"><use href="#O"/><text x="18.9" y="23.3">-8.9</text></g>
<g id="n17-8" transform="translate(292.15 632.8)"><use href="#W"/><text x="18.9" y="23.3">-9.0</text></g>
<g id="n17-9" transform="translate(330 632.8)"><use href="#O"/><text x="18.9" y="23.3">-9.1</text></g>
<g id="n17-10" transform="translate(367.85 632.8)"><use href="#O"/><text x="18.9" y="23.3">-9.9</text></g>
<g id="n17-11" transform="translate(405.7 632.8)"><use href="#W"/><text x="18.9" y="23.3">-9.9</text></g>
<g id="n17-12" transform="translate(443.55 632.8)"><use href="#W"/><text x="18.9" y="23.3">-9.9</text></g>
<g id="n17-13" transform="translate(481.4 632.8)"><use href="#W"/><text x="18.9" y="23.3">-9.9</text></g>
<g id="n17-14" transform="translate(519.25 632.8)"><use href="#W"/><text x="18.9" y="23.3">-9.9</text></g>
<g id="n17-15" transform="translate(557.1 632.8)"><use href="#O"/><text x="18.9" y="23.3">42.1</text></g>
<g id="n17-16" transform="translate(594.95 632.8)"><use href="#W"/><text x="18.9" y="23.3">47.9</text></g>
<g id="n17-17" transform="translate(632.8 632.8)"><use href="#W"/><text x="18.9" y="23.3">54.4</text></g>
<g id="n17-18" transform="translate(670.65 632.8)"><use href="#W"/><text x="18.9" y="23.3">61.7</text></g>
<g id="n17-19" transform="translate(708.5 632.8)"><use href="#W"/><text x="18.9" y="23.3">69.7</text></g>
<g id="n17-20" transform="translate(746.35 632.8)"><use href="#O"/><text x="18.9" y="23.3">78.6</text></g>

<g id="n18-1" transform="translate(27.2 670.65)"><use href="#W"/><text x="18.9" y="23.3">-9.6</text></g>
<g id="n18-2" transform="translate(65.05 670.65)"><use href="#W"/><text x="18.9" y="23.3">-9.6</text></g>
<g id="n18-3" transform="translate(102.9 670.65)"><use href="#O"/><text x="18.9" y="23.3">-9.4</text></g>
<g id="n18-4" transform="translate(140.75 670.65)"><use href="#W"/><text x="18.9" y="23.3">-9.3</text></g>
<g id="n18-5" transform="translate(178.6 670.65)"><use href="#O"/><text x="18.9" y="23.3">-9.4</text></g>
<g id="n18-6" transform="translate(216.45 670.65)"><use href="#W"/><text x="18.9" y="23.3">-9.9</text></g>
<g id="n18-7" transform="translate(254.3 670.65)"><use href="#W"/><text x="18.9" y="23.3">-9.9</text></g>
<g id="n18-8" transform="translate(292.15 670.65)"><use href="#O"/><text x="18.9" y="23.3">-9.1</text></g>
<g id="n18-9" transform="translate(330 670.65)"><use href="#O"/><text x="18.9" y="23.3">-9.7</text></g>
<g id="n18-10" transform="translate(367.85 670.65)"><use href="#O"/><text x="18.9" y="23.3">-49.7</text></g>
<g id="n18-11" transform="translate(405.7 670.65)"><use href="#O"/><text x="18.9" y="23.3">-9.9</text></g>
<g id="n18-12" transform="translate(443.55 670.65)"><use href="#W"/><text x="18.9" y="23.3">-9.9</text></g>
<g id="n18-13" transform="translate(481.4 670.65)"><use href="#O"/><text x="18.9" y="23.3">-9.9</text></g>
<g id="n18-14" transform="translate(519.25 670.65)"><use href="#W"/><text x="18.9" y="23.3">-9.9</text></g>
<g id="n18-15" transform="translate(557.1 670.65)"><use href="#W"/><text x="18.9" y="23.3">-9.9</text></g>
<g id="n18-16" transform="translate(594.95 670.65)"><use href="#O"/><text x="18.9" y="23.3">54.4</text></g>
<g id="n18-17" transform="translate(632.8 670.65)"><use href="#W"/><text x="18.9" y="23.3">61.7</text></g>
<g id="n18-18" transform="translate(670.65 670.65)"><use href="#W"/><text x="18.9" y="23.3">69.7</text></g>
<g id="n18-19" transform="translate(708.5 670.65)"><use href="#W"/><text x="18.9" y="23.3">78.6</text></g>
<g id="n18-20" transform="translate(746.35 670.65)"><use href="#W"/><text x="18.9" y="23.3">88.5</text></g>

<g id="n19-1" transform="translate(27.2 708.5)"><use href="#O"/><text x="18.9" y="23.3">-9.6</text></g>
<g id="n19-2" transform="translate(65.05 708.5)"><use href="#W"/><text x="18.9" y="23.3">-9.5</text></g>
<g id="n19-3" transform="translate(102.9 708.5)"><use href="#W"/><text x="18.9" y="23.3">-9.5</text></g>
<g id="n19-4" transform="translate(140.75 708.5)"><use href="#W"/><text x="18.9" y="23.3">-9.4</text></g>
<g id="n19-5" transform="translate(178.6 708.5)"><use href="#W"/><text x="18.9" y="23.3">-9.5</text></g>
<g id="n19-6" transform="translate(216.45 708.5)"><use href="#O"/><text x="18.9" y="23.3">-9.5</text></g>
<g id="n19-7" transform="translate(254.3 708.5)"><use href="#O"/><text x="18.9" y="23.3">-9.6</text></g>
<g id="n19-8" transform="translate(292.15 708.5)"><use href="#W"/><text x="18.9" y="23.3">-9.7</text></g>
<g id="n19-9" transform="translate(330 708.5)"><use href="#W"/><text x="18.9" y="23.3">-9.7</text></g>
<g id="n19-10" transform="translate(367.85 708.5)"><use href="#O"/><text x="18.9" y="23.3">-9.7</text></g>
<g id="n19-11" transform="translate(405.7 708.5)"><use href="#O"/><text x="18.9" y="23.3">-9.8</text></g>
<g id="n19-12" transform="translate(443.55 708.5)"><use href="#O"/><text x="18.9" y="23.3">-9.9</text></g>
<g id="n19-13" transform="translate(481.4 708.5)"><use href="#W"/><text x="18.9" y="23.3">-9.9</text></g>
<g id="n19-14" transform="translate(519.25 708.5)"><use href="#W"/><text x="18.9" y="23.3">-9.9</text></g>
<g id="n19-15" transform="translate(557.1 708.5)"><use href="#W"/><text x="18.9" y="23.3">-9.9</text></g>
<g id="n19-16" transform="translate(594.95 708.5)"><use href="#O"/><text x="18.9" y="23.3">61.7</text></g>
<g id="n19-17" transform="translate(632.8 708.5)"><use href="#W"/><text x="18.9" y="23.3">69.7</text></g>
<g id="n19-18" transform="translate(670.65 708.5)"><use href="#O"/><text x="18.9" y="23.3">78.6</text></g>
<g id="n19-19" transform="translate(708.5 708.5)"><use href="#W"/><text x="18.9" y="23.3">88.5</text></g>
<g id="n19-20" transform="translate(746.35 708.5)"><use href="#W"/><text x="18.9" y="23.3">99.5</text></g>

<g id="n20-1" transform="translate(27.2 746.35)"><use href="#O"/><text x="18.9" y="23.3">-9.6</text></g>
<g id="n20-2" transform="translate(65.05 746.35)"><use href="#W"/><text x="18.9" y="23.3">-9.6</text></g>
<g id="n20-3" transform="translate(102.9 746.35)"><use href="#W"/><text x="18.9" y="23.3">-9.5</text></g>
<g id="n20-4" transform="translate(140.75 746.35)"><use href="#W"/><text x="18.9" y="23.3">-9.5</text></g>
<g id="n20-5" transform="translate(178.6 746.35)"><use href="#W"/><text x="18.9" y="23.3">-9.5</text></g>
<g id="n20-6" transform="translate(216.45 746.35)"><use href="#W"/><text x="18.9" y="23.3">-9.6</text></g>
<g id="n20-7" transform="translate(254.3 746.35)"><use href="#W"/><text x="18.9" y="23.3">-9.6</text></g>
<g id="n20-8" transform="translate(292.15 746.35)"><use href="#W"/><text x="18.9" y="23.3">-9.6</text></g>
<g id="n20-9" transform="translate(330 746.35)"><use href="#W"/><text x="18.9" y="23.3">-9.7</text></g>
<g id="n20-10" transform="translate(367.85 746.35)"><use href="#W"/><text x="18.9" y="23.3">-9.7</text></g>
<g id="n20-11" transform="translate(405.7 746.35)"><use href="#W"/><text x="18.9" y="23.3">-9.7</text></g>
<g id="n20-12" transform="translate(443.55 746.35)"><use href="#O"/><text x="18.9" y="23.3">-9.8</text></g>
<g id="n20-13" transform="translate(481.4 746.35)"><use href="#W"/><text x="18.9" y="23.3">-9.9</text></g>
<g id="n20-14" transform="translate(519.25 746.35)"><use href="#W"/><text x="18.9" y="23.3">-9.9</text></g>
<g id="n20-15" transform="translate(557.1 746.35)"><use href="#O"/><text x="18.9" y="23.3">-10.0</text></g>
<g id="n20-16" transform="translate(594.95 746.35)"><use href="#O"/><text x="18.9" y="23.3">69.7</text></g>
<g id="n20-17" transform="translate(632.8 746.35)"><use href="#W"/><text x="18.9" y="23.3">78.6</text></g>
<g id="n20-18" transform="translate(670.65 746.35)"><use href="#W"/><text x="18.9" y="23.3">88.5</text></g>
<g id="n20-19" transform="translate(708.5 746.35)"><use href="#W"/><text x="18.9" y="23.3">99.5</text></g>
<g id="n20-20" transform="translate(746.35 746.35)"><use href="#B"/><text x="18.9" y="23.3">99.5</text></g>
</g>
<rect id="frame" x="27.2" y="27.2" width="757" height="757" fill="none" stroke="#000" stroke-width="1.2"/>
<g id="connectors">
<path d="M46.1 46.1v25"/><path d="M84 46.1v25"/><path d="M121.8 46.1v25"/><path d="M159.7 46.1v25"/><path d="M197.5 46.1v25"/><path d="M235.4 46.1v25"/><path d="M273.2 46.1v25"/><path d="M311.1 46.1v25"/><path d="M348.9 46.1h25"/><path d="M386.8 46.1h25"/><path d="M424.6 46.1v25"/><path d="M462.5 46.1v25"/><path d="M500.3 46.1v25"/><path d="M538.2 46.1v25"/><path d="M576 46.1v25"/><path d="M613.9 46.1h-25"/><path d="M651.7 46.1v25"/><path d="M689.6 46.1v25"/><path d="M727.4 46.1h-25"/><path d="M765.3 46.1h-25"/>
<path d="M46.1 84h25"/><path d="M84 84v25"/><path d="M121.8 84h25"/><path d="M159.7 84h25"/><path d="M197.5 84v25"/><path d="M235.4 84v25"/><path d="M273.2 84v25"/><path d="M311.1 84v25"/><path d="M348.9 84v25"/><path d="M386.8 84h25"/><path d="M424.6 84v25"/><path d="M462.5 84v25"/><path d="M500.3 84v25"/><path d="M538.2 84v25"/><path d="M576 84v25"/><path d="M613.9 84h-25"/><path d="M651.7 84v25"/><path d="M689.6 84v25"/><path d="M727.4 84v25"/><path d="M765.3 84v25"/>
<path d="M46.1 121.8v25"/><path d="M84 121.8v25"/><path d="M121.8 121.8v-25"/><path d="M159.7 121.8v25"/><path d="M197.5 121.8h25"/><path d="M235.4 121.8v25"/><path d="M273.2 121.8v25"/><path d="M311.1 121.8v25"/><path d="M348.9 121.8h-25"/><path d="M386.8 121.8v25"/><path d="M424.6 121.8v25"/><path d="M462.5 121.8v25"/><path d="M500.3 121.8h-25"/><path d="M538.2 121.8h-25"/><path d="M576 121.8v25"/><path d="M613.9 121.8h-25"/><path d="M651.7 121.8v25"/><path d="M689.6 121.8h-25"/><path d="M727.4 121.8h-25"/><path d="M765.3 121.8h-25"/>
<path d="M46.1 159.7v25"/><path d="M84 159.7v25"/><path d="M121.8 159.7v25"/><path d="M159.7 159.7v25"/><path d="M197.5 159.7v25"/><path d="M235.4 159.7v25"/><path d="M273.2 159.7v25"/><path d="M311.1 159.7v25"/><path d="M348.9 159.7v25"/><path d="M386.8 159.7h25"/><path d="M424.6 159.7v25"/><path d="M462.5 159.7h-25"/><path d="M500.3 159.7v25"/><path d="M538.2 159.7h25"/><path d="M576 159.7v25"/><path d="M613.9 159.7h-25"/><path d="M651.7 159.7v25"/><path d="M689.6 159.7v25"/><path d="M727.4 159.7v-25"/><path d="M765.3 159.7v-25"/>
<path d="M46.1 197.5h25"/><path d="M84 197.5h25"/><path d="M121.8 197.5h25"/><path d="M159.7 197.5v25"/><path d="M197.5 197.5v25"/><path d="M235.4 197.5v25"/><path d="M273.2 197.5v25"/><path d="M311.1 197.5v25"/><path d="M348.9 197.5v25"/><path d="M386.8 197.5v25"/><path d="M424.6 197.5v25"/><path d="M462.5 197.5v25"/><path d="M500.3 197.5v25"/><path d="M538.2 197.5v25"/><path d="M576 197.5v25"/><path d="M613.9 197.5v25"/><path d="M651.7 197.5v25"/><path d="M689.6 197.5h-25"/><path d="M727.4 197.5h-25"/><path d="M765.3 197.5v25"/>
<path d="M46.1 235.4v25"/><path d="M84 235.4v25"/><path d="M121.8 235.4h25"/><path d="M159.7 235.4h25"/><path d="M197.5 235.4h25"/><path d="M235.4 235.4h25"/><path d="M273.2 235.4v25"/><path d="M311.1 235.4v25"/><path d="M348.9 235.4v25"/><path d="M386.8 235.4h25"/><path d="M424.6 235.4v25"/><path d="M462.5 235.4v25"/><path d="M500.3 235.4h-25"/><path d="M538.2 235.4h-25"/><path d="M576 235.4h-25"/><path d="M613.9 235.4h-25"/><path d="M651.7 235.4h-25"/><path d="M689.6 235.4h-25"/><path d="M727.4 235.4h25"/><circle cx="765.3" cy="235.4" r="2.5"/>
<path d="M46.1 273.2h25"/><path d="M84 273.2h25"/><path d="M121.8 273.2h25"/><path d="M159.7 273.2v-25"/><path d="M197.5 273.2v-25"/><path d="M235.4 273.2h25"/><path d="M273.2 273.2h25"/><path d="M311.1 273.2v25"/><path d="M348.9 273.2v25"/><path d="M386.8 273.2h25"/><path d="M424.6 273.2v25"/><path d="M462.5 273.2v25"/><path d="M500.3 273.2v25"/><path d="M538.2 273.2v-25"/><path d="M576 273.2v-25"/><path d="M613.9 273.2v-25"/><path d="M651.7 273.2v-25"/><path d="M689.6 273.2v25"/><path d="M727.4 273.2v25"/><path d="M765.3 273.2v-25"/>
<path d="M46.1 311.1h25"/><path d="M84 311.1h25"/><path d="M121.8 311.1h25"/><path d="M159.7 311.1v-25"/><path d="M197.5 311.1h-25"/><path d="M235.4 311.1v25"/><path d="M273.2 311.1h25"/><path d="M311.1 311.1h25"/><path d="M348.9 311.1v25"/><path d="M386.8 311.1v25"/><path d="M424.6 311.1v25"/><path d="M462.5 311.1h-25"/><path d="M500.3 311.1h-25"/><path d="M538.2 311.1h-25"/><path d="M576 311.1h25"/><path d="M613.9 311.1v-25"/><path d="M651.7 311.1v25"/><path d="M689.6 311.1v25"/><path d="M727.4 311.1v25"/><path d="M765.3 311.1h-25"/>
<path d="M46.1 348.9h25"/><path d="M84 348.9h25"/><path d="M121.8 348.9h25"/><path d="M159.7 348.9v-25"/><path d="M197.5 348.9h-25"/><path d="M235.4 348.9h-25"/><path d="M273.2 348.9h-25"/><path d="M311.1 348.9h25"/><path d="M348.9 348.9v25"/><path d="M386.8 348.9v25"/><path d="M424.6 348.9v25"/><path d="M462.5 348.9v25"/><path d="M500.3 348.9v25"/><path d="M538.2 348.9v25"/><path d="M576 348.9v-25"/><path d="M613.9 348.9v25"/><path d="M651.7 348.9v25"/><path d="M689.6 348.9h-25"/><path d="M727.4 348.9h-25"/><path d="M765.3 348.9v25"/>
<path d="M46.1 386.8v-25"/><path d="M84 386.8h25"/><path d="M121.8 386.8h25"/><path d="M159.7 386.8v-25"/><path d="M197.5 386.8v-25"/><path d="M235.4 386.8v-25"/><path d="M273.2 386.8v-25"/><path d="M311.1 386.8h25"/><path d="M348.9 386.8h25"/><path d="M386.8 386.8h25"/><path d="M424.6 386.8v25"/><path d="M462.5 386.8v25"/><path d="M500.3 386.8v25"/><path d="M538.2 386.8h-25"/><path d="M576 386.8v25"/><path d="M613.9 386.8v25"/><path d="M651.7 386.8v25"/><path d="M689.6 386.8v25"/><path d="M727.4 386.8v25"/><path d="M765.3 386.8v25"/>
<path d="M46.1 424.6h25"/><path d="M84 424.6h25"/><path d="M121.8 424.6h25"/><path d="M159.7 424.6v-25"/><path d="M197.5 424.6v-25"/><path d="M235.4 424.6v-25"/><path d="M273.2 424.6v-25"/><circle cx="311.1" cy="424.6" r="2.5"/><path d="M348.9 424.6v25"/><path d="M386.8 424.6v25"/><path d="M424.6 424.6v25"/><path d="M462.5 424.6v25"/><path d="M500.3 424.6h-25"/><path d="M538.2 424.6v25"/><path d="M576 424.6h25"/><path d="M613.9 424.6v25"/><path d="M651.7 424.6v25"/><path d="M689.6 424.6v25"/><path d="M727.4 424.6h-25"/><path d="M765.3 424.6h-25"/>
<path d="M46.1 462.5v-25"/><path d="M84 462.5h25"/><path d="M121.8 462.5h25"/><path d="M159.7 462.5v-25"/><path d="M197.5 462.5h-25"/><path d="M235.4 462.5v-25"/><path d="M273.2 462.5h-25"/><path d="M311.1 462.5h25"/><path d="M348.9 462.5v25"/><path d="M386.8 462.5v25"/><path d="M424.6 462.5v25"/><path d="M462.5 462.5v25"/><path d="M500.3 462.5v25"/><path d="M538.2 462.5v25"/><path d="M576 462.5v25"/><path d="M613.9 462.5h25"/><path d="M651.7 462.5v25"/><path d="M689.6 462.5v25"/><path d="M727.4 462.5h-25"/><path d="M765.3 462.5v-25"/>
<path d="M46.1 500.3v25"/><path d="M84 500.3v25"/><path d="M121.8 500.3v-25"/><path d="M159.7 500.3v-25"/><path d="M197.5 500.3v25"/><path d="M235.4 500.3v-25"/><path d="M273.2 500.3v-25"/><path d="M311.1 500.3h25"/><path d="M348.9 500.3h25"/><path d="M386.8 500.3h25"/><path d="M424.6 500.3h25"/><path d="M462.5 500.3h25"/><path d="M500.3 500.3h25"/><path d="M538.2 500.3h25"/><path d="M576 500.3v25"/><path d="M613.9 500.3v25"/><path d="M651.7 500.3v25"/><path d="M689.6 500.3h-25"/><path d="M727.4 500.3h-25"/><path d="M765.3 500.3v-25"/>
<path d="M46.1 538.2v25"/><path d="M84 538.2h25"/><path d="M121.8 538.2v25"/><path d="M159.7 538.2v25"/><path d="M197.5 538.2v25"/><path d="M235.4 538.2h25"/><path d="M273.2 538.2v-25"/><path d="M311.1 538.2h-25"/><path d="M348.9 538.2h25"/><path d="M386.8 538.2h25"/><path d="M424.6 538.2h25"/><path d="M462.5 538.2v-25"/><path d="M500.3 538.2v-25"/><path d="M538.2 538.2v25"/><path d="M576 538.2v25"/><path d="M613.9 538.2v25"/><path d="M651.7 538.2v25"/><path d="M689.6 538.2h-25"/><path d="M727.4 538.2v25"/><path d="M765.3 538.2v25"/>
<circle cx="46.1" cy="576" r="2.5"/><path d="M84 576h25"/><path d="M121.8 576h25"/><path d="M159.7 576h25"/><path d="M197.5 576h25"/><path d="M235.4 576h25"/><path d="M273.2 576v-25"/><path d="M311.1 576v-25"/><path d="M348.9 576h-25"/><path d="M386.8 576v-25"/><path d="M424.6 576h25"/><path d="M462.5 576v-25"/><path d="M500.3 576h25"/><path d="M538.2 576h25"/><path d="M576 576v25"/><path d="M613.9 576v25"/><path d="M651.7 576v25"/><path d="M689.6 576v25"/><path d="M727.4 576h25"/><circle cx="765.3" cy="576" r="2.5"/>
<path d="M46.1 613.9v25"/><path d="M84 613.9h25"/><path d="M121.8 613.9h25"/><path d="M159.7 613.9v-25"/><path d="M197.5 613.9h25"/><path d="M235.4 613.9h25"/><path d="M273.2 613.9v-25"/><path d="M311.1 613.9v-25"/><path d="M348.9 613.9v-25"/><path d="M386.8 613.9h25"/><path d="M424.6 613.9v25"/><path d="M462.5 613.9v-25"/><path d="M500.3 613.9v25"/><path d="M538.2 613.9h25"/><path d="M576 613.9h25"/><path d="M613.9 613.9v25"/><path d="M651.7 613.9v25"/><path d="M689.6 613.9v25"/><path d="M727.4 613.9v25"/><path d="M765.3 613.9v-25"/>
<path d="M46.1 651.7v25"/><path d="M84 651.7v25"/><path d="M121.8 651.7h25"/><path d="M159.7 651.7v-25"/><path d="M197.5 651.7h-25"/><path d="M235.4 651.7v-25"/><path d="M273.2 651.7v-25"/><path d="M311.1 651.7v-25"/><path d="M348.9 651.7h-25"/><path d="M386.8 651.7h25"/><path d="M424.6 651.7h25"/><path d="M462.5 651.7v25"/><path d="M500.3 651.7h25"/><path d="M538.2 651.7v25"/><path d="M576 651.7h25"/><path d="M613.9 651.7h25"/><path d="M651.7 651.7v25"/><path d="M689.6 651.7v25"/><path d="M727.4 651.7v25"/><path d="M765.3 651.7v25"/>
<path d="M46.1 689.6h25"/><path d="M84 689.6v25"/><path d="M121.8 689.6h25"/><path d="M159.7 689.6v-25"/><path d="M197.5 689.6v-25"/><path d="M235.4 689.6h25"/><circle cx="273.2" cy="689.6" r="2.5"/><path d="M311.1 689.6v-25"/><path d="M348.9 689.6v25"/><path d="M386.8 689.6v25"/><path d="M424.6 689.6h25"/><circle cx="462.5" cy="689.6" r="2.5"/><path d="M500.3 689.6v25"/><path d="M538.2 689.6v25"/><path d="M576 689.6v25"/><path d="M613.9 689.6h25"/><path d="M651.7 689.6v25"/><path d="M689.6 689.6h25"/><path d="M727.4 689.6v25"/><path d="M765.3 689.6v25"/>
<path d="M46.1 727.4h25"/><path d="M84 727.4h25"/><path d="M121.8 727.4h25"/><path d="M159.7 727.4v-25"/><path d="M197.5 727.4h-25"/><path d="M235.4 727.4h-25"/><path d="M273.2 727.4v25"/><path d="M311.1 727.4v25"/><path d="M348.9 727.4v25"/><path d="M386.8 727.4v25"/><path d="M424.6 727.4v25"/><path d="M462.5 727.4h25"/><path d="M500.3 727.4v25"/><path d="M538.2 727.4v25"/><circle cx="576" cy="727.4" r="2.5"/><path d="M613.9 727.4h25"/><path d="M651.7 727.4v25"/><path d="M689.6 727.4v25"/><path d="M727.4 727.4v25"/><path d="M765.3 727.4v25"/>
<path d="M46.1 765.3h25"/><path d="M84 765.3h25"/><path d="M121.8 765.3h25"/><path d="M159.7 765.3v-25"/><path d="M197.5 765.3v-25"/><path d="M235.4 765.3h-25"/><path d="M273.2 765.3h-25"/><path d="M311.1 765.3h-25"/><path d="M348.9 765.3h-25"/><path d="M386.8 765.3h-25"/><path d="M424.6 765.3h-25"/><path d="M462.5 765.3h-25"/><path d="M500.3 765.3h25"/><circle cx="538.2" cy="765.3" r="2.5"/><path d="M576 765.3v-25"/><path d="M613.9 765.3h25"/><path d="M651.7 765.3h25"/><path d="M689.6 765.3h25"/><path d="M727.4 765.3h25"/><circle cx="765.3" cy="765.3" r="2.5"/>
</g>
<g id="start"><polygon points="84,754 86.6,762 95,762 88.2,766.9 90.8,775 84,770 77.2,775 79.8,766.9 73,762 81.4,762" fill="#0000FF"/></g>
<g id="col-labels" class="lab">
<text x="46.1" y="21">1</text><text x="84" y="21">2</text><text x="121.8" y="21">3</text><text x="159.7" y="21">4</text><text x="197.5" y="21">5</text><text x="235.4" y="21">6</text><text x="273.2" y="21">7</text><text x="311.1" y="21">8</text><text x="348.9" y="21">9</text><text x="386.8" y="21">10</text><text x="424.6" y="21">11</text><text x="462.5" y="21">12</text><text x="500.3" y="21">13</text><text x="538.2" y="21">14</text><text x="576" y="21">15</text><text x="613.9" y="21">16</text><text x="651.7" y="21">17</text><text x="689.6" y="21">18</text><text x="727.4" y="21">19</text><text x="765.3" y="21">20</text>
</g>
<g id="row-labels" class="lab">
<text x="18" y="50.4">1</text><text x="18" y="88.3">2</text><text x="18" y="126.1">3</text><text x="18" y="164">4</text><text x="18" y="201.8">5</text><text x="18" y="239.7">6</text><text x="18" y="277.5">7</text><text x="18" y="315.4">8</text><text x="18" y="353.2">9</text><text x="18" y="391.1">10</text><text x="18" y="428.9">11</text><text x="18" y="466.8">12</text><text x="18" y="504.6">13</text><text x="18" y="542.5">14</text><text x="18" y="580.3">15</text><text x="18" y="618.2">16</text><text x="18" y="656">17</text><text x="18" y="693.9">18</text><text x="18" y="731.7">19</text><text x="18" y="769.6">20</text>
</g>
</svg>
